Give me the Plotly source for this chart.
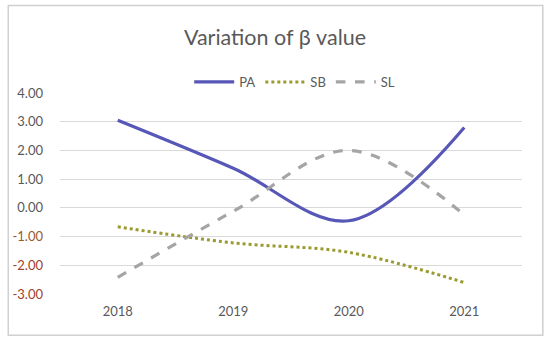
import plotly.graph_objects as go

years = ["2018", "2019", "2020", "2021"]
pa = [3.05, 1.38, -0.45, 2.80]
sb = [-0.66, -1.22, -1.55, -2.60]
sl = [-2.42, -0.12, 2.00, -0.24]
tick_vals = [4, 3, 2, 1, 0, -1, -2, -3]
tick_labels = ["4.00", "3.00", "2.00", "1.00", "0.00", "-1.00", "-2.00", "-3.00"]

def fmt(v, t):
    if v < 0:
        col = "#9a5a2a" if v == -1 else "#a0422a"
        return f"<span style='color:{col}'>{t}</span>"
    return t

fig = go.Figure()
fig.add_trace(go.Scatter(x=years, y=pa, name="PA", mode="lines",
                         line=dict(color="#5757b8", width=3.2, shape="spline", smoothing=1)))
fig.add_trace(go.Scatter(x=years, y=sb, name="SB", mode="lines",
                         line=dict(color="#9a9a30", width=3, dash="dot", shape="spline", smoothing=1)))
fig.add_trace(go.Scatter(x=years, y=sl, name="SL", mode="lines",
                         line=dict(color="#a5a5a5", width=3.2, dash="dash", shape="spline", smoothing=1)))

fig.update_layout(
    width=550, height=341,
    margin=dict(l=58, r=28, t=93, b=47),
    paper_bgcolor="white", plot_bgcolor="white",
    font=dict(family="Lato, Noto Sans, sans-serif", color="#595959", size=13),
    title=dict(text="Variation of β value", x=0.5, xanchor="center", y=0.89, yanchor="middle",
               font=dict(size=21.5, color="#595959")),
    legend=dict(orientation="h", x=0.508, xanchor="center", y=1.055, yanchor="middle",
                font=dict(size=13, color="#595959"), itemwidth=40, bgcolor="rgba(0,0,0,0)"),
    showlegend=True,
)
fig.update_xaxes(type="category", range=[-0.5, 3.5], showgrid=False, showline=False, zeroline=False,
                 ticks="", ticklabelstandoff=8, tickfont=dict(size=13, color="#595959"))
fig.update_yaxes(range=[-3, 4], tickvals=tick_vals,
                 ticktext=[fmt(v, t) for v, t in zip(tick_vals, tick_labels)],
                 showgrid=True, gridcolor="#d9d9d9", gridwidth=1, zeroline=False,
                 showline=False, ticks="", ticklabelstandoff=16,
                 tickfont=dict(size=13, color="#595959"))
fig.add_shape(type="rect", xref="paper", yref="paper",
              x0=-0.112, x1=1.045, y0=-0.205, y1=1.435,
              line=dict(color="#d0d0d0", width=1.5), layer="below")

fig.write_html("out.html", config={"displayModeBar": False},
               post_script="document.body.style.margin='0';")
